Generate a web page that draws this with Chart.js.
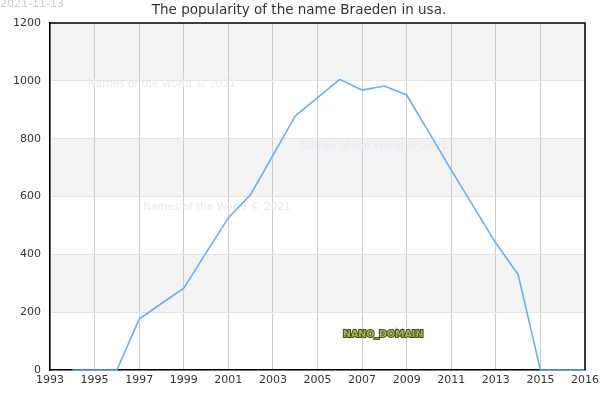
<!DOCTYPE html>
<html>
<head>
<meta charset="utf-8">
<script src="https://cdn.jsdelivr.net/npm/chart.js@4"></script>
<style>
html,body{margin:0;padding:0;background:#fff;}
#wrap{width:600px;height:400px;position:relative;}
</style>
</head>
<body>
<div id="wrap"><canvas id="c" width="600" height="400"></canvas></div>
<script>
const years = [1994,1995,1996,1997,1998,1999,2000,2001,2002,2003,2004,2005,2006,2007,2008,2009,2010,2011,2012,2013,2014,2015,2017];
const counts = [0,0,0,176,230,283,405,526,607,742,878,942,1005,968,982,951,822,691,565,439,330,0,0];
const xTickValues = [1993,1995,1997,1999,2001,2003,2005,2007,2009,2011,2013,2015,2017];
const xTickLabels = ['1993','1995','1997','1999','2001','2003','2005','2007','2009','2011','2013','2015','2016'];
const yTicks = [0,200,400,600,800,1000,1200];
const titleText = 'The popularity of the name Braeden in usa.';
const dateText = '2021-11-13';
const watermark = 'Names of the World © 2021';
const domainText = 'NANO_DOMAIN';

const FONT = '"DejaVu Sans", sans-serif';

const decor = {
  id: 'decor',
  beforeDraw(chart) {
    const {ctx, chartArea: a, scales: {y}} = chart;
    ctx.save();
    for (let i = 0; i < yTicks.length - 1; i++) {
      if (i % 2 === 1) {
        const top = y.getPixelForValue(yTicks[i + 1]);
        const bot = y.getPixelForValue(yTicks[i]);
        ctx.fillStyle = '#f3f3f3';
        ctx.fillRect(a.left, top, a.right - a.left, bot - top);
      }
    }
    ctx.fillStyle = '#cccccc';
    ctx.font = '11px ' + FONT;
    ctx.textBaseline = 'middle';
    ctx.textAlign = 'left';
    ctx.fillText(dateText, 0, 4);
    ctx.fillStyle = '#333333';
    ctx.font = '13.5px ' + FONT;
    ctx.textAlign = 'center';
    ctx.fillText(titleText, 299, 10.5);
    ctx.restore();
  },
  beforeDatasetsDraw(chart) {
    const {ctx} = chart;
    ctx.save();
    ctx.fillStyle = '#e8e8f6';
    ctx.font = '10.5px ' + FONT;
    ctx.textBaseline = 'middle';
    ctx.textAlign = 'left';
    ctx.fillText(watermark, 88, 84);
    ctx.fillText(watermark, 300, 146);
    ctx.fillText(watermark, 143, 207);
    ctx.restore();
  },
  afterDatasetsDraw(chart) {
    const {ctx, chartArea: a} = chart;
    ctx.save();
    ctx.strokeStyle = '#000';
    ctx.lineWidth = 1.5;
    ctx.beginPath();
    ctx.moveTo(a.left, a.top);
    ctx.lineTo(a.right, a.top);
    ctx.lineTo(a.right, a.bottom);
    ctx.stroke();
    ctx.font = 'bold 9.5px ' + FONT;
    ctx.textBaseline = 'middle';
    ctx.textAlign = 'left';
    ctx.lineWidth = 2;
    ctx.strokeStyle = '#3d4f14';
    ctx.strokeText(domainText, 343, 335);
    ctx.fillStyle = '#a3b55a';
    ctx.fillText(domainText, 343, 335);
    ctx.restore();
  }
};

new Chart(document.getElementById('c'), {
  type: 'line',
  data: {
    datasets: [{
      data: years.map((yr, i) => ({x: yr, y: counts[i]})),
      borderColor: '#6aaff0',
      borderWidth: 1.6,
      pointRadius: 0,
      fill: false,
      tension: 0,
      clip: 4
    }]
  },
  options: {
    responsive: false,
    animation: false,
    devicePixelRatio: 1,
    layout: {padding: {top: 23, right: 15, left: 0, bottom: 0}},
    plugins: {legend: {display: false}, tooltip: {enabled: false}, title: {display: false}},
    scales: {
      x: {
        type: 'linear',
        min: 1993,
        max: 2017,
        afterBuildTicks: s => { s.ticks = xTickValues.map(v => ({value: v})); },
        afterFit: s => { s.height = 30; s.paddingLeft = 0; s.paddingRight = 0; },
        ticks: {
          autoSkip: false,
          maxRotation: 0,
          padding: 4,
          color: '#333',
          font: {family: FONT, size: 11},
          callback: (v, i) => xTickLabels[i]
        },
        grid: {color: '#cccccc', lineWidth: 1, drawTicks: false},
        border: {color: '#000', width: 1.5}
      },
      y: {
        min: 0,
        max: 1200,
        afterBuildTicks: s => { s.ticks = yTicks.map(v => ({value: v})); },
        afterFit: s => { s.width = 50; s.paddingTop = 0; s.paddingBottom = 0; },
        ticks: {
          padding: 9,
          color: '#333',
          font: {family: FONT, size: 11},
          callback: v => String(v)
        },
        grid: {color: '#e4e4e4', lineWidth: 1, drawTicks: false},
        border: {color: '#000', width: 1.5}
      }
    }
  },
  plugins: [decor]
});
</script>
</body>
</html>
